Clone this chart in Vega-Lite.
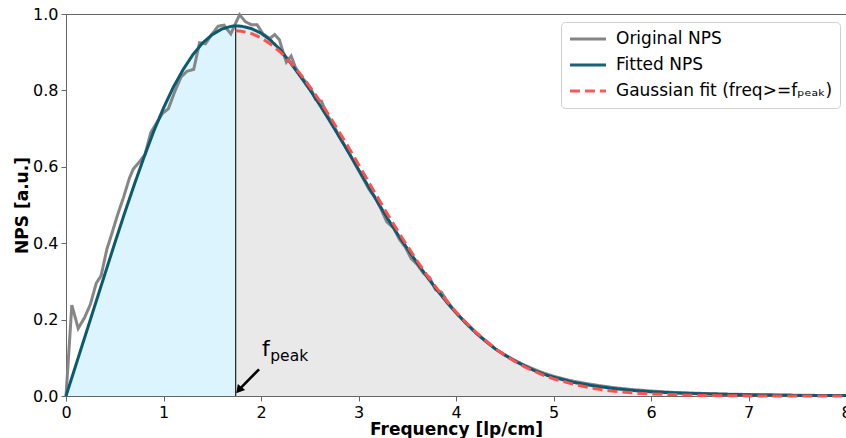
{
"$schema": "https://vega.github.io/schema/vega-lite/v6.json",
"width": 780, "height": 382,
"autosize": {"type": "none"},
"padding": {"left": 66, "top": 14, "right": 0, "bottom": 42},
"background": "white",
"config": {
 "font": "DejaVu Sans",
 "view": {"stroke": "#666", "strokeWidth": 1},
 "axis": {"domainColor": "#666", "tickColor": "#666", "labelFontSize": 16, "titleFontSize": 17, "titleFontWeight": "bold", "labelColor": "#000", "titleColor": "#000", "grid": false, "tickSize": 5, "labelPadding": 3}
},
"datasets": {
"nps": [
{"s":"orig","f":0.0,"v":0.0},{"s":"orig","f":0.06,"v":0.238},{"s":"orig","f":0.125,"v":0.177},{"s":"orig","f":0.19,"v":0.205},{"s":"orig","f":0.25,"v":0.24},{"s":"orig","f":0.31,"v":0.295},{"s":"orig","f":0.36,"v":0.315},{"s":"orig","f":0.42,"v":0.385},{"s":"orig","f":0.47,"v":0.425},{"s":"orig","f":0.53,"v":0.475},{"s":"orig","f":0.59,"v":0.52},{"s":"orig","f":0.65,"v":0.57},{"s":"orig","f":0.69,"v":0.594},{"s":"orig","f":0.75,"v":0.612},{"s":"orig","f":0.81,"v":0.632},{"s":"orig","f":0.87,"v":0.69},{"s":"orig","f":0.93,"v":0.715},{"s":"orig","f":0.99,"v":0.74},{"s":"orig","f":1.05,"v":0.752},{"s":"orig","f":1.12,"v":0.80},{"s":"orig","f":1.18,"v":0.835},{"s":"orig","f":1.24,"v":0.85},{"s":"orig","f":1.31,"v":0.855},{"s":"orig","f":1.37,"v":0.925},{"s":"orig","f":1.43,"v":0.922},{"s":"orig","f":1.49,"v":0.945},{"s":"orig","f":1.56,"v":0.968},{"s":"orig","f":1.62,"v":0.971},{"s":"orig","f":1.69,"v":0.948},{"s":"orig","f":1.78,"v":0.998},{"s":"orig","f":1.84,"v":0.98},{"s":"orig","f":1.9,"v":0.972},{"s":"orig","f":1.96,"v":0.972},{"s":"orig","f":2.02,"v":0.948},{"s":"orig","f":2.09,"v":0.936},{"s":"orig","f":2.14,"v":0.946},{"s":"orig","f":2.19,"v":0.932},{"s":"orig","f":2.22,"v":0.905},{"s":"orig","f":2.26,"v":0.874},{"s":"orig","f":2.31,"v":0.89},{"s":"orig","f":2.35,"v":0.862},{"s":"orig","f":2.40,"v":0.84},{"s":"orig","f":2.46,"v":0.822},{"s":"orig","f":2.52,"v":0.80},{"s":"orig","f":2.56,"v":0.776},{"s":"orig","f":2.62,"v":0.772},{"s":"orig","f":2.68,"v":0.735},{"s":"orig","f":2.74,"v":0.712},{"s":"orig","f":2.80,"v":0.68},{"s":"orig","f":2.86,"v":0.655},{"s":"orig","f":2.92,"v":0.628},{"s":"orig","f":2.98,"v":0.60},{"s":"orig","f":3.05,"v":0.568},{"s":"orig","f":3.11,"v":0.54},{"s":"orig","f":3.17,"v":0.52},{"s":"orig","f":3.23,"v":0.49},{"s":"orig","f":3.29,"v":0.456},{"s":"orig","f":3.36,"v":0.44},{"s":"orig","f":3.42,"v":0.41},{"s":"orig","f":3.48,"v":0.39},{"s":"orig","f":3.54,"v":0.36},{"s":"orig","f":3.60,"v":0.345},{"s":"orig","f":3.67,"v":0.32},{"s":"orig","f":3.73,"v":0.31},{"s":"orig","f":3.79,"v":0.278},{"s":"orig","f":3.85,"v":0.272},{"s":"orig","f":3.91,"v":0.248},{"s":"orig","f":3.97,"v":0.228},{"s":"orig","f":4.04,"v":0.208},{"s":"orig","f":4.10,"v":0.192},{"s":"orig","f":4.16,"v":0.178},{"s":"orig","f":4.22,"v":0.162},{"s":"orig","f":4.28,"v":0.15},{"s":"orig","f":4.35,"v":0.135},{"s":"orig","f":4.41,"v":0.122},{"s":"orig","f":4.5,"v":0.108},{"s":"orig","f":4.6,"v":0.094},{"s":"orig","f":4.7,"v":0.081},{"s":"orig","f":4.8,"v":0.07},{"s":"orig","f":4.9,"v":0.06},{"s":"orig","f":5.0,"v":0.052},{"s":"orig","f":5.1,"v":0.045},{"s":"orig","f":5.2,"v":0.039},{"s":"orig","f":5.35,"v":0.032},{"s":"orig","f":5.5,"v":0.026},{"s":"orig","f":5.65,"v":0.021},{"s":"orig","f":5.8,"v":0.017},{"s":"orig","f":6.0,"v":0.013},{"s":"orig","f":6.25,"v":0.009},{"s":"orig","f":6.5,"v":0.007},{"s":"orig","f":6.75,"v":0.005},{"s":"orig","f":7.0,"v":0.004},{"s":"orig","f":7.5,"v":0.002},{"s":"orig","f":8.0,"v":0.001},
{"s":"fit","f":0,"v":0},{"s":"fit","f":0.1,"v":0.08},{"s":"fit","f":0.2,"v":0.16},{"s":"fit","f":0.3,"v":0.24},{"s":"fit","f":0.4,"v":0.32},{"s":"fit","f":0.5,"v":0.40},{"s":"fit","f":0.6,"v":0.478},{"s":"fit","f":0.7,"v":0.553},{"s":"fit","f":0.8,"v":0.625},{"s":"fit","f":0.9,"v":0.693},{"s":"fit","f":1.0,"v":0.754},{"s":"fit","f":1.1,"v":0.808},{"s":"fit","f":1.2,"v":0.854},{"s":"fit","f":1.3,"v":0.893},{"s":"fit","f":1.4,"v":0.924},{"s":"fit","f":1.5,"v":0.946},{"s":"fit","f":1.6,"v":0.961},{"s":"fit","f":1.7,"v":0.968},{"s":"fit","f":1.74,"v":0.969},{"s":"fit","f":1.8,"v":0.968},{"s":"fit","f":1.9,"v":0.962},{"s":"fit","f":2.0,"v":0.950},{"s":"fit","f":2.1,"v":0.931},{"s":"fit","f":2.2,"v":0.906},{"s":"fit","f":2.3,"v":0.873},{"s":"fit","f":2.4,"v":0.838},{"s":"fit","f":2.5,"v":0.802},{"s":"fit","f":2.6,"v":0.763},{"s":"fit","f":2.7,"v":0.722},{"s":"fit","f":2.8,"v":0.680},{"s":"fit","f":2.9,"v":0.637},{"s":"fit","f":3.0,"v":0.593},{"s":"fit","f":3.1,"v":0.549},{"s":"fit","f":3.2,"v":0.506},{"s":"fit","f":3.3,"v":0.464},{"s":"fit","f":3.4,"v":0.424},{"s":"fit","f":3.5,"v":0.386},{"s":"fit","f":3.6,"v":0.349},{"s":"fit","f":3.7,"v":0.313},{"s":"fit","f":3.8,"v":0.279},{"s":"fit","f":3.9,"v":0.247},{"s":"fit","f":4.0,"v":0.218},{"s":"fit","f":4.1,"v":0.191},{"s":"fit","f":4.2,"v":0.166},{"s":"fit","f":4.3,"v":0.144},{"s":"fit","f":4.4,"v":0.124},{"s":"fit","f":4.5,"v":0.107},{"s":"fit","f":4.6,"v":0.092},{"s":"fit","f":4.7,"v":0.079},{"s":"fit","f":4.8,"v":0.067},{"s":"fit","f":4.9,"v":0.057},{"s":"fit","f":5.0,"v":0.049},{"s":"fit","f":5.2,"v":0.036},{"s":"fit","f":5.4,"v":0.027},{"s":"fit","f":5.6,"v":0.020},{"s":"fit","f":5.8,"v":0.015},{"s":"fit","f":6.0,"v":0.011},{"s":"fit","f":6.25,"v":0.008},{"s":"fit","f":6.5,"v":0.006},{"s":"fit","f":7.0,"v":0.003},{"s":"fit","f":7.5,"v":0.0015},{"s":"fit","f":8.0,"v":0.001},
{"s":"gauss","f":1.74,"v":0.956},{"s":"gauss","f":1.8,"v":0.955},{"s":"gauss","f":1.9,"v":0.949},{"s":"gauss","f":2.0,"v":0.938},{"s":"gauss","f":2.1,"v":0.921},{"s":"gauss","f":2.2,"v":0.900},{"s":"gauss","f":2.3,"v":0.874},{"s":"gauss","f":2.4,"v":0.844},{"s":"gauss","f":2.5,"v":0.810},{"s":"gauss","f":2.6,"v":0.773},{"s":"gauss","f":2.7,"v":0.734},{"s":"gauss","f":2.8,"v":0.692},{"s":"gauss","f":2.9,"v":0.650},{"s":"gauss","f":3.0,"v":0.606},{"s":"gauss","f":3.1,"v":0.562},{"s":"gauss","f":3.2,"v":0.518},{"s":"gauss","f":3.3,"v":0.475},{"s":"gauss","f":3.4,"v":0.433},{"s":"gauss","f":3.5,"v":0.393},{"s":"gauss","f":3.6,"v":0.354},{"s":"gauss","f":3.7,"v":0.317},{"s":"gauss","f":3.8,"v":0.283},{"s":"gauss","f":3.9,"v":0.250},{"s":"gauss","f":4.0,"v":0.220},{"s":"gauss","f":4.1,"v":0.193},{"s":"gauss","f":4.2,"v":0.168},{"s":"gauss","f":4.3,"v":0.146},{"s":"gauss","f":4.4,"v":0.125},{"s":"gauss","f":4.5,"v":0.107},{"s":"gauss","f":4.6,"v":0.091},{"s":"gauss","f":4.7,"v":0.077},{"s":"gauss","f":4.8,"v":0.065},{"s":"gauss","f":4.9,"v":0.054},{"s":"gauss","f":5.0,"v":0.045},{"s":"gauss","f":5.2,"v":0.031},{"s":"gauss","f":5.4,"v":0.020},{"s":"gauss","f":5.6,"v":0.013},{"s":"gauss","f":5.8,"v":0.0084},{"s":"gauss","f":6.0,"v":0.0052},{"s":"gauss","f":6.5,"v":0.0014},{"s":"gauss","f":7.0,"v":0.0003},{"s":"gauss","f":7.5,"v":0.0},{"s":"gauss","f":8.0,"v":0.0}
],
"peak": [{"fpeak": 1.74, "npspeak": 0.969, "zero": 0, "t": "f", "sub": "peak"}]
},
"layer": [
 {"data": {"name": "nps"}, "transform": [{"filter": "datum.s == 'fit' && datum.f <= 1.74"}], "mark": {"type": "area", "color": "#dcf4fd"},
  "encoding": {
   "x": {"field": "f", "type": "quantitative", "scale": {"domain": [0, 8], "nice": false}, "axis": {"values": [0,1,2,3,4,5,6,7,8], "format": "d", "title": "Frequency [lp/cm]", "titlePadding": 1, "labelFlush": false}},
   "y": {"field": "v", "type": "quantitative", "scale": {"domain": [0, 1], "nice": false}, "axis": {"values": [0,0.2,0.4,0.6,0.8,1.0], "format": ".1f", "title": "NPS [a.u.]", "titlePadding": 1}}
  }},
 {"data": {"name": "nps"}, "transform": [{"filter": "datum.s == 'fit' && datum.f >= 1.74"}], "mark": {"type": "area", "color": "#e9e9e9"},
  "encoding": {"x": {"field": "f", "type": "quantitative"}, "y": {"field": "v", "type": "quantitative"}}},
 {"data": {"name": "peak"}, "mark": {"type": "rule", "color": "#222", "strokeWidth": 1.2},
  "encoding": {"x": {"field": "fpeak", "type": "quantitative"}, "y": {"field": "zero", "type": "quantitative"}, "y2": {"field": "npspeak"}}},
 {"data": {"name": "nps"}, "transform": [{"filter": "datum.s == 'orig'"}], "mark": {"type": "line", "strokeWidth": 3, "opacity": 0.95},
  "encoding": {
   "x": {"field": "f", "type": "quantitative"}, "y": {"field": "v", "type": "quantitative"},
   "color": {"field": "s", "type": "nominal", "scale": {"domain": ["orig","fit","gauss"], "range": ["#7f7f7f","#0b5a6f","#ff5050"]}, "legend": {"title": null, "orient": "none", "legendX": 495, "legendY": 8, "symbolType": "stroke", "symbolStrokeWidth": 3, "symbolSize": 1300, "clipHeight": 20, "labelFontSize": 17, "labelLimit": 400, "labelOffset": 8, "rowPadding": 6, "padding": 7, "fillColor": "rgba(255,255,255,0.85)", "strokeColor": "#d0d0d0", "cornerRadius": 4, "labelColor": "#000", "labelExpr": "datum.label == 'orig' ? 'Original NPS' : datum.label == 'fit' ? 'Fitted NPS' : 'Gaussian fit (freq>=fₚₑₐₖ)'"}},
   "strokeDash": {"field": "s", "type": "nominal", "scale": {"domain": ["orig","fit","gauss"], "range": [[1,0],[1,0],[10,5]]}, "legend": {"title": null, "orient": "none", "legendX": 495, "legendY": 8, "symbolType": "stroke", "symbolStrokeWidth": 3, "symbolSize": 1300, "clipHeight": 20, "labelFontSize": 17, "labelLimit": 400, "labelOffset": 8, "rowPadding": 6, "padding": 7, "fillColor": "rgba(255,255,255,0.85)", "strokeColor": "#d0d0d0", "cornerRadius": 4, "labelColor": "#000", "labelExpr": "datum.label == 'orig' ? 'Original NPS' : datum.label == 'fit' ? 'Fitted NPS' : 'Gaussian fit (freq>=fₚₑₐₖ)'"}}
  }},
 {"data": {"name": "nps"}, "transform": [{"filter": "datum.s == 'fit'"}], "mark": {"type": "line", "strokeWidth": 3},
  "encoding": {"x": {"field": "f", "type": "quantitative"}, "y": {"field": "v", "type": "quantitative"}, "color": {"field": "s", "type": "nominal"}, "strokeDash": {"field": "s", "type": "nominal"}}},
 {"data": {"name": "nps"}, "transform": [{"filter": "datum.s == 'gauss'"}], "mark": {"type": "line", "strokeWidth": 3},
  "encoding": {"x": {"field": "f", "type": "quantitative"}, "y": {"field": "v", "type": "quantitative"}, "color": {"field": "s", "type": "nominal"}, "strokeDash": {"field": "s", "type": "nominal"}}},
 {"data": {"name": "peak"}, "mark": {"type": "rule", "color": "#000", "strokeWidth": 2.5},
  "encoding": {"x": {"datum": 1.98, "type": "quantitative"}, "y": {"datum": 0.07, "type": "quantitative"}, "x2": {"datum": 1.78}, "y2": {"datum": 0.018}}},
 {"data": {"name": "peak"}, "mark": {"type": "point", "shape": "triangle-up", "filled": true, "color": "#000", "opacity": 1, "size": 90, "angle": 220},
  "encoding": {"x": {"datum": 1.773, "type": "quantitative"}, "y": {"datum": 0.0152, "type": "quantitative"}}},
 {"data": {"name": "peak"}, "mark": {"type": "text", "fontSize": 22, "align": "left", "baseline": "alphabetic", "color": "#000"},
  "encoding": {"x": {"datum": 2.01, "type": "quantitative"}, "y": {"datum": 0.1047, "type": "quantitative"}, "text": {"field": "t"}}},
 {"data": {"name": "peak"}, "mark": {"type": "text", "fontSize": 15.5, "align": "left", "baseline": "alphabetic", "color": "#000"},
  "encoding": {"x": {"datum": 2.095, "type": "quantitative"}, "y": {"datum": 0.0916, "type": "quantitative"}, "text": {"field": "sub"}}}
]
}
